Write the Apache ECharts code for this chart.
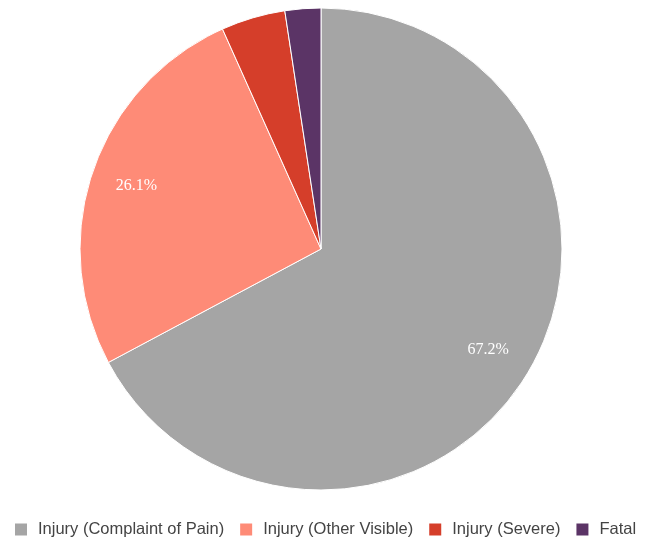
<!DOCTYPE html>
<html>
<head>
<meta charset="utf-8">
<script src="https://cdn.jsdelivr.net/npm/echarts@6/dist/echarts.min.js"></script>
<style>
  html, body { margin: 0; padding: 0; background: #fff; }
  #chart { width: 647px; height: 543px; }
</style>
</head>
<body>
<div id="chart"></div>
<script>
  // categories and shares (percent)
  var categories = ['Injury (Complaint of Pain)', 'Injury (Other Visible)', 'Injury (Severe)', 'Fatal'];
  var shares = [67.2, 26.1, 4.3, 2.4];
  var colors = ['#a5a5a5', '#fe8b77', '#d53e2a', '#5b3466'];

  var pieData = categories.map(function (name, i) {
    return { name: name, value: shares[i] };
  });

  var chart = echarts.init(document.getElementById('chart'));
  chart.setOption({
    animation: false,
    color: colors,
    legend: {
      top: 516,
      left: 8,
      itemWidth: 14,
      itemHeight: 14,
      itemGap: 14,
      icon: 'rect',
      data: categories,
      textStyle: {
        fontFamily: 'Liberation Sans',
        fontSize: 16.5,
        color: '#444',
        padding: [0, 0, 0, 5]
      }
    },
    series: [
      {
        type: 'pie',
        center: [321, 249],
        radius: [0, 241],
        startAngle: 90,
        clockwise: true,
        data: pieData,
        itemStyle: { borderColor: '#fff', borderWidth: 1 },
        label: { show: false },
        labelLine: { show: false },
        emphasis: { disabled: true }
      },
      {
        // transparent ring used only to place labels at ~0.8 of the radius
        type: 'pie',
        center: [321, 249],
        radius: [143, 241],
        startAngle: 90,
        clockwise: true,
        silent: true,
        data: pieData,
        itemStyle: { color: 'rgba(0,0,0,0)' },
        label: {
          show: true,
          position: 'inside',
          formatter: function (p) {
            return p.value > 5 ? p.value.toFixed(1) + '%' : '';
          },
          color: '#fff',
          fontFamily: 'Liberation Serif',
          fontSize: 16
        },
        labelLine: { show: false },
        emphasis: { disabled: true }
      }
    ]
  });
</script>
</body>
</html>
